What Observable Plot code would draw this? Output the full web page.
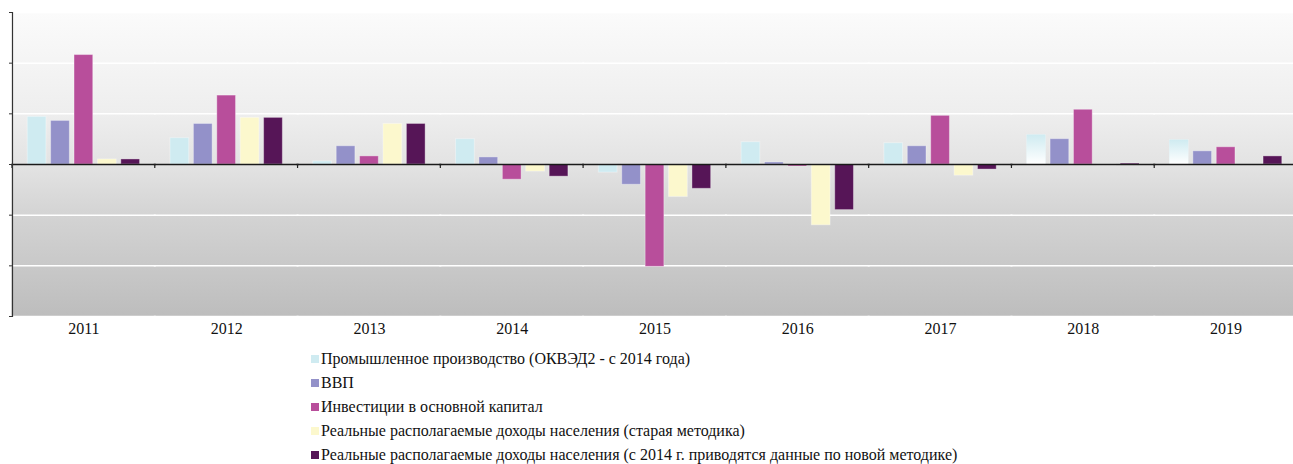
<!DOCTYPE html>
<html><head><meta charset="utf-8">
<script src="https://cdn.jsdelivr.net/npm/d3@7"></script>
<script src="https://cdn.jsdelivr.net/npm/@observablehq/plot@0.6"></script>
<style>
html,body{margin:0;padding:0;background:#fff;overflow:hidden;}
#chart{width:1297px;height:340px;}
.legend{margin:7px 0 0 311px;font-family:"Liberation Serif","Times New Roman",serif;font-size:16px;color:#111;}
.legend .row{height:24px;line-height:24px;display:flex;align-items:center;white-space:nowrap;}
.legend .sw{width:8px;height:8px;margin-right:2px;flex:none;}
</style></head><body><div id="chart"></div><div class="legend" id="legend"></div><script>
const years = ["2011","2012","2013","2014","2015","2016","2017","2018","2019"];
const seriesNames = [
  "Промышленное производство (ОКВЭД2 - с 2014 года)",
  "ВВП",
  "Инвестиции в основной капитал",
  "Реальные располагаемые доходы населения (старая методика)",
  "Реальные располагаемые доходы населения (с 2014 г. приводятся данные по новой методике)"
];
const seriesColors = ["#cfebf1","#9391c9","#b84e9b","#fcf8cd","#561557"];
const industrial = [4.7, 2.6, 0.3, 2.5, -0.8, 2.2, 2.1, 2.9, 2.4];
const gdp        = [4.3, 4.0, 1.8, 0.7, -2.0, 0.2, 1.8, 2.5, 1.3];
const investment = [10.8, 6.8, 0.8, -1.5, -10.1, -0.2, 4.8, 5.4, 1.7];
const incomeOld  = [0.5, 4.6, 4.0, -0.7, -3.2, -6.0, -1.1, -0.1, null];
const incomeNew  = [0.5, 4.6, 4.0, -1.2, -2.4, -4.5, -0.5, 0.1, 0.8];
const yTicks = [-15, -10, -5, 0, 5, 10, 15];
const fadedIndustrialYears = ["2018", "2019"];

const seriesValues = [industrial, gdp, investment, incomeOld, incomeNew];
const rows = [];
years.forEach((yr, i) => seriesNames.forEach((s, k) => {
  const v = seriesValues[k][i];
  if (v != null) rows.push({year: yr, series: s, value: v});
}));
const fadedRows = rows.filter(d => d.series === seriesNames[0] && fadedIndustrialYears.includes(d.year));

const fontFamily = '"Liberation Serif","Times New Roman",serif';

const boundaryTicks = (index, scales, values, dims) => {
  const y0 = scales.y(0);
  return d3.create("svg:line")
    .attr("x1", dims.marginLeft).attr("x2", dims.marginLeft)
    .attr("y1", y0).attr("y2", y0 + 4)
    .attr("stroke", "#222").attr("stroke-width", 1.2).node();
};

const svg = Plot.plot({
  width: 1297, height: 340,
  marginTop: 12, marginBottom: 24, marginLeft: 12, marginRight: 0,
  style: {fontFamily, fontSize: "16px", color: "#111", background: "transparent"},
  fx: {domain: years, padding: 0, round: false, label: null},
  x: {domain: seriesNames, paddingInner: 0.2, paddingOuter: 0.65, round: false, axis: null},
  y: {domain: [-15, 15], axis: null},
  color: {domain: seriesNames, range: seriesColors},
  marks: [
    Plot.frame({fill: "url(#bgGrad)", stroke: "none", insetLeft: -1, insetRight: -1}),
    Plot.gridY(yTicks.filter(v => v !== 0), {stroke: "#fff", strokeOpacity: 1, strokeWidth: 1.5, insetLeft: -1, insetRight: -1}),
    Plot.barY(rows, {fx: "year", x: "series", y: "value", fill: "series", stroke: "#fff", strokeOpacity: 0.35, strokeWidth: 1}),
    Plot.barY(fadedRows, {fx: "year", x: "series", y: "value", fill: "url(#indFade)"}),
    Plot.ruleY([0], {stroke: "#1a1a1a", strokeWidth: 1.5, insetLeft: -1, insetRight: -1}),
    boundaryTicks,
    Plot.frame({anchor: "left", facetAnchor: "left", stroke: "#333", strokeWidth: 1.2}),
    Plot.axisY({ticks: yTicks, tickSize: 3, tickFormat: () => "", facetAnchor: "left", stroke: "#333", label: null}),
    Plot.axisFx({anchor: "bottom", tickSize: 0, tickPadding: 6, label: null, fontSize: 16, fontFamily})
  ]
});

const defs = d3.select(svg).insert("defs", ":first-child");
const bg = defs.append("linearGradient").attr("id", "bgGrad").attr("x1", 0).attr("y1", 0).attr("x2", 0).attr("y2", 1);
[[0, "#fbfbfb"], [0.33, "#eeeeee"], [0.5, "#e3e3e3"], [0.67, "#d3d3d3"], [0.84, "#c8c8c8"], [1, "#bdbdbd"]]
  .forEach(([o, c]) => bg.append("stop").attr("offset", o).attr("stop-color", c));
const fade = defs.append("linearGradient").attr("id", "indFade").attr("x1", 0).attr("y1", 0).attr("x2", 0).attr("y2", 1);
[[0, seriesColors[0]], [1, "#ffffff"]].forEach(([o, c]) => fade.append("stop").attr("offset", o).attr("stop-color", c));

document.getElementById("chart").appendChild(svg);

const legend = d3.select("#legend");
seriesNames.forEach((s, k) => {
  const r = legend.append("div").attr("class", "row");
  r.append("span").attr("class", "sw").style("background", seriesColors[k]);
  r.append("span").text(s);
});
</script></body></html>
